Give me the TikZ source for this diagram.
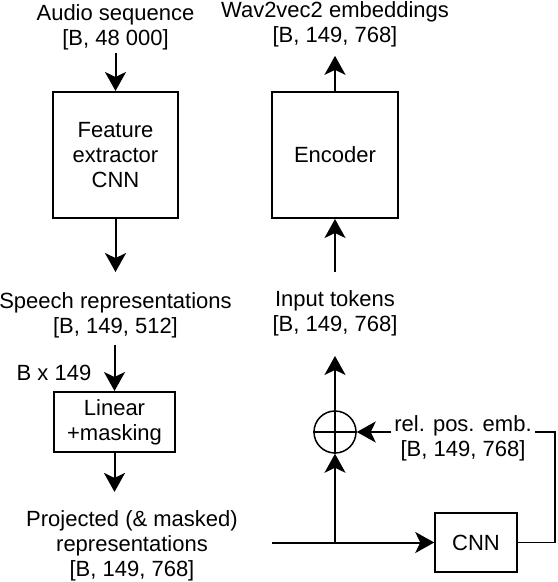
\documentclass[tikz,border=0pt]{standalone}
\usepackage{fontspec}
\setmainfont{Liberation Sans}
\usetikzlibrary{arrows.meta}
\begin{document}
\begin{tikzpicture}[x=1bp,y=-1bp,
  lbl/.style={font=\fontsize{22bp}{25bp}\selectfont, align=center, inner sep=0pt},
  blk/.style={draw, line width=2bp, font=\fontsize{22bp}{25bp}\selectfont, align=center, inner sep=0pt},
  arr/.style={line width=2bp, -{Stealth[length=19bp,width=21bp,inset=5bp]}},
  thinline/.style={line width=1.5bp}]
\useasboundingbox (0,0) rectangle (558,582);
% left column
\node[lbl] (audio) at (115.5,27) {Audio sequence\\{}[B, 48 000]};
\node[blk, minimum width=125bp, minimum height=126bp] (feat) at (115.5,155) {Feature\\extractor\\CNN};
\node[lbl] (speech) at (115.5,315) {Speech representations\\{}[B, 149, 512]};
\node[lbl] (bx) at (54,373) {B x 149};
\node[blk, minimum width=121bp, minimum height=60bp] (lin) at (114.5,422) {Linear\\+masking};
\node[lbl] (proj) at (132,545.4) {Projected (\& masked)\\representations\\{}[B, 149, 768]};
% right column
\node[lbl] (wav) at (335,24.5) {Wav2vec2 embeddings\\{}[B, 149, 768]};
\node[blk, minimum width=126bp, minimum height=126bp] (enc) at (335,155) {Encoder};
\node[lbl] (inp) at (335,313) {Input tokens\\{}[B, 149, 768]};
\node[draw, circle, thinline, minimum size=42bp, inner sep=0pt] (circ) at (335,432) {};
\node[draw, thinline, minimum width=82bp, minimum height=59bp, inner sep=0pt, font=\fontsize{22bp}{25bp}\selectfont] (cnn) at (476,542.5) {CNN};
\coordinate (start) at (272,542.5);
\coordinate (junc) at (335,542.5);
\coordinate (corner) at (555,432);
% connectors
\draw[arr, shorten <=3bp] (audio.south) -- (feat.north);
\draw[arr, shorten >=20bp] (feat.south) -- (speech.north);
\draw[arr, shorten <=7bp] (speech.south -| lin.north) -- (lin.north);
\draw[arr, shorten >=18bp] (lin.south) -- (lin.south |- proj.north);
\draw[arr, shorten >=8.4bp] (enc.north) -- (wav.south);
\draw[arr, shorten <=18bp] (inp.north) -- (enc.south);
\draw[arr, shorten >=20bp] (circ.north) -- (inp.south);
\draw[arr] (start) -- (cnn.west);
\draw[arr] (junc) -- (circ.south);
\draw[thinline] (circ.west) -- (circ.east) (circ.north) -- (circ.south);
\draw[arr, thinline] (cnn.east) -- (corner |- cnn.east) -- (corner) -- (circ.east);
\node[lbl, fill=white, inner xsep=3bp] (rel) at (463,438.8) {rel. pos. emb.\\{}[B, 149, 768]};
\end{tikzpicture}
\end{document}
